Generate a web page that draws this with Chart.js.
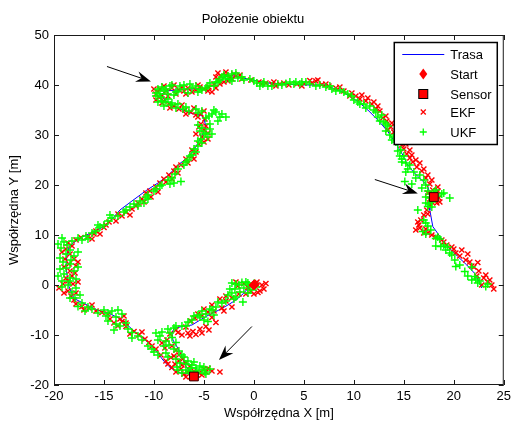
<!DOCTYPE html>
<html>
<head>
<meta charset="utf-8">
<script src="https://cdn.jsdelivr.net/npm/chart.js@4"></script>
<style>
  html, body { margin: 0; padding: 0; background: #fff; }
  #wrap { width: 515px; height: 421px; }
</style>
</head>
<body>
<div id="wrap"><canvas id="chart"></canvas></div>
<script>
const xTicks = [-20, -15, -10, -5, 0, 5, 10, 15, 20, 25];
const yTicks = [-20, -10, 0, 10, 20, 30, 40, 50];

// true route (blue)
const trasa = [
  [0,0],[-0.5,-0.5],[-1.2,-2],[-1.8,-3],[-2.6,-4],[-3.5,-5],[-4.8,-6.3],[-6.2,-8],[-7.2,-8.3],[-8,-8.7],
  [-8.2,-9.6],[-8.1,-11],[-7.5,-13],[-7.2,-14.3],[-6.8,-16.3],[-6.3,-17.7],[-7,-17.8],[-7.8,-17.3],[-8.5,-16.3],
  [-9.1,-15],[-10,-12.6],[-10.5,-11.6],[-11.7,-9.7],[-13.4,-6.7],[-14.6,-5.6],[-15.7,-5],[-17.4,-3.3],[-18,-2.7],
  [-18.5,-0.3],[-18.7,2],[-18.8,4],[-18.7,6],[-18.5,7.5],[-18.2,8.2],[-17.4,9.4],[-16.4,10.3],[-15,11.7],
  [-14.2,13.2],[-13.4,15],[-12.2,16.8],[-10.7,19],[-9.6,20.4],[-8.7,21.7],[-7.4,24.3],[-6.5,25.7],[-5.8,27.7],
  [-5.2,29.8],[-4.8,31.7],[-5,33.3],[-5.3,34],[-6.2,34.3],[-7.5,35.3],[-8.5,36.3],[-9,37.2],[-9.2,38.2],
  [-8.8,38.8],[-7.8,39],[-6.4,39.2],[-5,39.3],[-4.2,39.8],[-3.6,40.6],[-3,41.4],[-2.5,42],[-1.8,41.7],
  [-0.6,41.2],[0.4,40.8],[1.4,40.4],[2.6,40.2],[4,40.1],[5.4,40],[7.1,40],[8,39.3],[8.8,38.7],[10.4,36.7],
  [11.4,35],[12.4,33],[13.4,30.7],[14.4,27.7],[14.9,26],[15.3,24.3],[15.8,23],[16.4,21.7],[17,20.6],
  [17.4,19.7],[17.7,17.7],[17.6,16.4],[17.6,15],[17.9,11.7],[18.4,10.3],[19.1,8.3],[20.4,5.7],[21.3,4],
  [22.1,2.3],[22.5,0.8],[22.8,-0.6]
];
const startPt = [[0, 0]];
const sensors = [[-6, -18.3], [18, 17.6]];

const ekf = [
  [0.8,0],[1,-0.8],[0.4,-1.5],[-0.3,-1.2],[-1.8,0.6],[-1,0.3],[0.3,0.6],[1.2,0.3],[-0.6,-0.5],[0,-1.8],
  [-1.5,-1.8],[-2.2,-2.6],[-2.8,-3.2],[-3.2,-4.6],[-4,-5.2],[-4.6,-5.4],[-5.2,-6.2],[-5.9,-6.6],[-6.3,-7.2],
  [-4.2,-6.5],[-3.8,-7.5],[-4.8,-8.3],[-5.4,-8.8],[-6.1,-9.3],[-6.6,-9.6],[-7.2,-10],[-5.8,-9.9],[-4.5,-9],[-7.6,-9.5],
  [-8.4,-9.8],[-8.7,-11],[-8.2,-12.2],[-7.8,-13],[-7.5,-14],[-7.1,-14.8],[-6.8,-15.6],[-6.4,-16.2],[-7.3,-16.8],
  [-6,-17.2],[-5.5,-17.6],[-5,-16.8],[-4.6,-16.7],[-4.2,-17.2],[-3.4,-17.4],[-5.7,-18],[-6.3,-18.3],[-7,-17.8],
  [-7.8,-17.4],[-8.2,-16.5],[-7.5,-15.2],[-8.3,-14.5],
  [-8.8,-15.2],[-9.3,-14],[-9.8,-12.8],[-10.5,-11.5],[-10.9,-10.8],[-11.5,-10],[-12,-9.3],[-12.8,-8.3],
  [-13.2,-7.3],[-13.6,-8.2],[-13.4,-6.8],[-14,-7.6],[-14.6,-5.8],[-15.2,-5.5],[-15.8,-5.2],[-16.5,-4.6],
  [-17.2,-4.3],[-17.8,-3.8],[-18.3,-2.2],[-17.8,-1.6],[-18.6,-1.2],
  [-19.5,-0.6],[-19.1,0.2],[-18.6,0.8],[-18.2,1.8],[-18.4,2.8],[-17.8,3.8],[-18.5,4.2],[-18.9,5.2],
  [-18.4,6.2],[-18.8,7.2],[-18.2,7.8],[-17.9,2.4],[-18.1,0.2],
  [-17.3,9.5],[-16.6,9.7],[-16,10.2],[-15.8,10.8],[-15,11.5],[-14.5,12.6],[-13.8,12.8],[-13.2,13.8],
  [-12.8,14.6],[-12.2,15.2],[-11.6,16.4],[-11.2,17.2],[-10.8,18.4],[-10.3,17.6],[-9.8,19.6],[-9.4,20.4],
  [-9,21.2],[-8.5,22],[-8,22.8],[-7.6,22.4],[-7.3,24],[-6.8,25.2],[-6.2,25.8],[-5.8,26.6],[-5.5,28.2],
  [-5.2,29.6],[-5,31],[-5.5,31.6],[-4.6,30.4],[-5.3,32.2],[-6,25.2],
  [-5.3,34.2],[-5.8,34],[-6.3,34.6],[-6.9,35],[-7.5,35.2],[-8,35.8],[-8.5,36.2],[-9,36.8],[-9.2,37.8],
  [-9.6,38.6],[-9.4,39.2],[-8.8,38.8],[-8.2,39.4],[-7.5,39],[-6.6,39.4],[-5.8,39],[-5,39.2],[-4.5,39.6],
  [-4,40.2],[-3.6,41],[-3.3,41.8],[-2.8,42],[-2.4,41.6],[-3,40.6],
  [-9.8,38.2],[-9.5,37.6],[-8.6,37.8],[-7.8,38.2],[-7,38.8],[-6.2,38.6],[-5.4,39.6],[-4.6,38.8],[-3.8,39.4],
  [-2.6,40.8],[-3.8,41.6],[-2,42.2],[-9.2,36.4],[-6.8,34.2],[-5.6,33.6],[-4.9,33.2],
  [-1.8,41.8],[-1.2,41.2],[-0.3,41],[0.5,40.6],[1.2,40.4],[2,40.6],[2.6,40.2],[3.5,40],[4.3,40.2],[5,40.4],
  [5.6,40.9],[6.2,40.8],[6.8,40.1],[7.5,39.8],[8.2,39.4],[9,38.8],[9.8,38.4],[10.2,37.8],
  [10.6,37.2],[11.2,36.8],[11.8,36.2],[12.4,35.8],[12.6,34.8],[12.9,33.4],[13.3,32.8],[13.7,31.6],[14,30.6],
  [14.4,29.2],[14.8,28],[15,27.2],[15.3,26.2],[15.6,25.4],[15.9,24.6],[16.3,23.6],[16.8,22.8],[17.2,21.4],
  [17.6,20.2],[17.9,19],[18.2,18.2],[17.6,17.2],[18.3,16.4],[18.5,17.4],
  [17.6,16],[17.3,15],[17,14],[16.7,13],[16.5,12],[16.6,11.4],[17.2,11.2],[17,10.4],[17.8,10],[18.2,9.6],
  [18.8,9],[19.3,8],[19.8,7.6],[20.2,6.4],[20.6,5.8],[21.2,5],[21.6,4.6],[22,3.6],[22.5,2.8],[23,1.4],
  [23.4,0.6],[23.8,0],[24,-0.8],[22.3,1.8],[22.4,4.5],
  [-0.8,-1.8],[0.6,-1.2],[-1.6,-0.2],[0.2,0.2],[-2.8,-2.2],[-3.4,-2.8],[-4.2,-4],[-5,-4.8],[-5.6,-5.8],
  [-3,-5.2],[-2.2,-4.4],[-6.8,-8.4],[-7.8,-9],[-6.4,-10.2],[-5.2,-9.6],[-8.9,-12.6],[-9.2,-11.6],[-8,-14.2],
  [-7.2,-16],[-6.6,-17.4],[-5.2,-18],[-4.8,-17.4],[-6.8,-18.4],[-8.6,-15.8],[-7.9,-15.8],
  [-10.2,-12.2],[-11.2,-9.4],[-12.4,-9.8],[-13,-6.2],[-14.4,-6.8],[-12.8,-7.6],[-16.2,-4],[-17,-5],[-18,-3],
  [-19,-1.6],[-17.6,0.6],[-18.8,1.4],[-19,3.6],[-17.6,4.6],[-18,5.2],[-19.2,6.6],[-18.6,8.4],
  [-17.8,9],[-16.2,9.2],[-15.4,10.2],[-14.8,12],[-13.6,14.2],[-12.4,14],[-11.8,15.8],[-11,16.6],[-10.4,18.8],
  [-9.6,18.6],[-8.8,20.6],[-8.2,21.2],[-7.8,23.6],[-6.6,24.4],[-6.2,27],[-5,28.6],[-4.6,29.2],[-5.8,30.2],
  [-4.8,31.8],[-5,34.8],[-6,35.4],[-7.2,36],[-8.4,35.4],[-9.8,37],[-10,39.2],[-9,39.8],[-8,40],[-7.2,39.6],
  [-6.8,38.2],[-5.6,40],[-4.2,38.6],[-3.4,40.2],[-2.2,41.2],[-1.4,42],[-3.6,42.4],[-2.8,42.6],
  [0.8,40.2],[1.8,40.2],[2.2,39.8],[3,40.4],[5.8,40.4],[6.4,41],[4.8,39.8],[7.2,40.2],[8.6,39.6],[9.6,37.8],
  [10.8,38],[11.4,37.4],[12,36.6],[12.2,35.2],[13.2,33.8],[13.8,32.4],[13.4,31],[14.6,30.8],[14.2,29.8],
  [15.2,28.2],[15.6,27],[15.8,26],[16.2,25],[16.6,24.4],[17,23.2],[17.4,22],[17.8,21],[18.4,19.6],
  [17.4,18.4],[18.4,18.8],[18.6,16.6],[17.8,16.6],[17.4,14.2],[16.4,12.6],[16.2,11],[17.4,10.4],[19,8.6],
  [20.8,7],[21.4,6.2],[20,7.2],[21.8,3.8],[23.2,2],[23.6,1],[22.8,0]
];

const ukf = [
  [-0.5,0],[-1,-0.6],[-1.5,0],[-1.9,-0.8],[-1.2,0.5],[0.2,-0.4],[-0.3,-1],[-1.4,-1.4],[-2.2,-1.6],
  [-1.1,-3.4],[-0.8,0.6],[0,0.3],
  [-2.6,-2],[-3.2,-3.6],[-3.8,-4.4],[-4.4,-4.8],[-5.2,-5.2],[-6,-6.2],[-4,-6],[-6.6,-7.4],[-7.2,-8.2],
  [-8,-8.6],[-8.6,-8.8],[-9.2,-9.4],[-4.6,-7.3],[-5.4,-6.4],
  [-9.6,-11],[-9,-12.2],[-8.5,-12],[-8.2,-10.5],[-7.8,-11.5],[-7.5,-13.2],[-8.8,-13.6],[-7,-14.4],
  [-6.6,-15.2],[-7.4,-15.6],[-6.2,-16],[-5.8,-16.6],[-5.2,-17],[-6.5,-17.2],[-5.6,-17.6],[-4.8,-17.8],
  [-6.8,-17],[-7.7,-16.4],[-5.4,-16.2],[-4.9,-17.4],[-6.3,-16.6],
  [-9.6,-14],[-10.2,-12.8],[-10.6,-12.2],[-11.2,-11],[-12.2,-9.5],[-12.6,-8.8],[-13.4,-8.2],[-14,-9],
  [-14.6,-7.2],[-13.8,-6.4],[-13.2,-5.8],[-14.2,-5.2],[-15,-5],[-16.2,-4.8],[-16.9,-5.2],[-17.6,-4.3],
  [-17.9,-2.6],[-17.4,-2],[-18.2,-1.4],
  [-18.6,0],[-19.2,0.8],[-18.4,1.4],[-19,2.2],[-18,2.8],[-18.8,3.4],[-19.1,4.6],[-18.3,5],[-18,5.8],
  [-18.8,6.2],[-19.3,7.4],[-18.7,8],[-18.2,8.8],[-19,8.6],[-19.4,3.2],[-17.8,1.2],
  [-17.6,9.4],[-16.8,9.8],[-15.8,10.8],[-15.4,11.6],[-15,12],[-14.2,13.4],[-14.4,14],[-13.6,13.8],
  [-12.8,15],[-12.4,15.6],[-12,16.2],[-11.4,16.8],[-10.8,17.6],[-10.6,18],[-10,18.8],[-9.8,19.2],
  [-9.2,20],[-8.4,20.2],[-8.2,21.4],[-7.9,22.2],[-7.3,20.7],[-7,24],[-6.6,25],[-6,27.2],[-5.6,27.8],
  [-5.3,29.2],[-5,30.2],[-5.4,30.8],[-4.8,30.4],
  [-4.5,33.8],[-4.2,34.2],[-4.8,33.4],[-5.6,34.4],[-6.5,34.8],[-7.1,35.2],[-7.8,35.4],[-8.3,36],
  [-8.8,36.6],[-9.3,37.6],[-9,38.8],[-9.2,39.6],[-8.6,38.2],[-8.4,39.8],[-7.8,38.6],[-7,39.2],
  [-6.2,39.4],[-5.6,38.6],[-4.8,39.4],[-4,39.8],[-3.6,40.6],[-3.2,41.6],[-2.6,41.8],[-2.2,42.2],
  [-1.6,41.4],[-9.8,38.4],[-8.6,37.2],[-3.4,33.6],[-3.8,34.6],
  [-9.4,38.2],[-8.8,39.2],[-8,38],[-7.4,39.8],[-6.6,38.4],[-5.8,39.8],[-5.2,39],[-4.4,40.4],[-3,42],
  [-2.8,41.2],[-9.6,36.6],[-8.2,36.4],[-9,35.8],[-3.2,34.2],[-5.6,32],[-4.4,31.2],[-5.2,28.4],[-6.2,26],
  [-1,41],[-0.4,41.2],[0.3,40.4],[0.9,40.2],[1.4,39.8],[2.4,40.2],[3.2,40.3],[4.2,40.6],[4.6,40.2],
  [5.2,40.6],[6.6,40],[7.2,39.6],[7.8,39.2],[8.6,39],[9.4,38.2],[9.8,37.8],[10.4,36.6],
  [11,36.2],[11.6,35.8],[12.2,34.6],[12.8,34],[13,32.6],[13.4,31.8],[13.6,30],[14,29.6],[14.4,28.2],
  [14.7,27],[15,25.8],[15.2,24.4],[15.6,24],[16,22.6],[16.6,22],[15.8,20.2],[17.2,20],[17.4,18.8],
  [18.2,19],[18.8,18.2],[19.6,17.4],[17.6,17.4],[17.5,16.2],[17.8,15.6],[14.8,24.6],[15.1,20.7],
  [16.4,15],[17.4,15.7],[17.2,12.4],[16.9,10.7],[17.7,11],[18.2,9.3],[18.4,9.6],[18.7,7.7],[18.2,7.8],
  [19.2,7],[19.6,6.4],[20.1,5],[20.2,3.7],[21.1,2.7],[21.4,1.8],[22.1,1.7],[22.2,1.2],[22.6,0.8],
  [23.2,-0.3],[18.4,17.8],
  [-0.6,0.4],[-1.8,0.2],[-2.4,-0.8],[-2.2,0.4],[-0.6,-1.6],[-1.8,-2.4],[-2,-2.8],[-2.8,-3.2],[-3.6,-3.4],
  [-4.2,-5],[-4.8,-5.8],[-5.6,-6],[-6.2,-7],[-5,-7],[-6.8,-8.2],[-7.8,-8.2],[-8.4,-9.6],[-9.4,-10.2],
  [-9.8,-9.6],[-8.8,-11.2],[-8,-12.8],[-8.6,-14.4],[-7.2,-14],[-6.8,-15.8],[-7.6,-17],[-6.4,-17.6],
  [-5,-16.4],[-4.4,-16.8],[-7.2,-17.6],[-5.8,-17.2],[-6,-15.4],[-7.8,-14.8],
  [-10,-13.4],[-11.6,-10.2],[-12.2,-10.6],[-12.8,-7.6],[-13.8,-7.8],[-14.8,-6.2],[-13.6,-5],[-14.6,-5.6],
  [-15.6,-5.6],[-16.6,-4.4],[-17.2,-3.6],[-18.4,-2.6],[-17.8,-0.6],
  [-19.2,-0.4],[-18.4,0.8],[-19.6,1.8],[-17.6,3.6],[-18.4,4.2],[-19.4,5.4],[-17.6,6.6],[-18.4,7],
  [-19.6,8.2],[-19.2,9.4],[-17.2,9],
  [-16.2,10.4],[-16.6,9.2],[-15.6,12],[-14.6,12.8],[-13,14.6],[-11.6,15.8],[-11,16.4],[-10.6,17.2],
  [-9.4,19.8],[-8.6,21],[-8,20.4],[-7.6,23.2],[-6.8,24.6],[-6.4,25.8],[-5.8,26.6],[-5.6,28.8],[-4.6,29.6],
  [-5.2,31.4],[-4.2,30.2],[-4.4,32.2],
  [-2.8,33.6],[-3.6,32.8],[-4,35],[-5.2,34.8],[-5.8,35.2],[-6.8,35.6],[-7.6,36.2],[-9.2,36.8],[-9.8,37.8],
  [-9.6,39.2],[-8.2,40],[-7.6,38.8],[-7,40],[-6.4,40.2],[-5.4,39.2],[-4.6,39.8],[-3.8,40.6],[-3.4,41],
  [-2.4,41.2],[-1.8,42.4],[-1.2,41.6],[-2.2,40.8],
  [0,40.8],[0.6,39.8],[1,40.6],[1.8,39.8],[2.8,40],[3.6,40.6],[4,40.2],[4.8,40.6],[5.6,40.2],[6.2,39.8],
  [7.6,39.8],[8.2,38.8],[9,38.6],
  [10,37],[10.6,36.2],[11.2,35.4],[12,35],[12.4,33.6],[12.6,32.8],[13.2,32.2],[13.2,30.8],[13.8,29],
  [14.2,28.6],[14.4,26.8],[14.6,25.8],[14.8,25.2],[15.4,23.2],[15.2,22.6],[16.2,21.4],[17,21],[16.8,19.4],
  [17.2,17.6],[18,18.6],[19,18.4],[17.8,16.6],[17.2,16.4],[17,13],[17.4,11.8],[17.2,10.2],[18.6,9.2],
  [19,8],[19.4,7.6],[19.8,6],[20.6,4],[21.8,3.6],[22.4,0.4],[23.4,0.2],[21.8,1]
];

// annotation arrows: [tail, head] in data units
const arrows = [
  [[-14.7, 43.7], [-10.3, 40.7]],
  [[12.1, 21.1], [16.4, 18.3]],
  [[-0.2, -8.3], [-3.5, -15]]
];

const FONT = 'Arial, "Liberation Sans", Helvetica, sans-serif';
const toXY = arr => arr.map(p => ({ x: p[0], y: p[1] }));

const axesBox = {
  id: 'axesBox',
  afterDraw(chart) {
    const { ctx, chartArea: a, scales } = chart;
    ctx.save();
    ctx.strokeStyle = '#1a1a1a';
    ctx.lineWidth = 1;
    ctx.strokeRect(a.left + 0.5, a.top + 0.5, a.right - a.left - 1, a.bottom - a.top - 1);
    ctx.beginPath();
    xTicks.forEach(v => {
      const px = Math.round(scales.x.getPixelForValue(v)) + 0.5;
      ctx.moveTo(px, a.bottom); ctx.lineTo(px, a.bottom - 5);
      ctx.moveTo(px, a.top); ctx.lineTo(px, a.top + 5);
    });
    yTicks.forEach(v => {
      const py = Math.round(scales.y.getPixelForValue(v)) + 0.5;
      ctx.moveTo(a.left, py); ctx.lineTo(a.left + 5, py);
      ctx.moveTo(a.right, py); ctx.lineTo(a.right - 5, py);
    });
    ctx.stroke();
    ctx.restore();
  }
};

const arrowLayer = {
  id: 'arrowLayer',
  afterDatasetsDraw(chart) {
    const { ctx, scales } = chart;
    ctx.save();
    ctx.strokeStyle = '#000';
    ctx.fillStyle = '#000';
    ctx.lineWidth = 1;
    arrows.forEach(([t, h]) => {
      const x1 = scales.x.getPixelForValue(t[0]), y1 = scales.y.getPixelForValue(t[1]);
      const x2 = scales.x.getPixelForValue(h[0]), y2 = scales.y.getPixelForValue(h[1]);
      const ang = Math.atan2(y2 - y1, x2 - x1);
      const L = 15, W = 5.5, N = 10;
      ctx.beginPath();
      ctx.moveTo(x1, y1);
      ctx.lineTo(x2 - N * Math.cos(ang), y2 - N * Math.sin(ang));
      ctx.stroke();
      ctx.beginPath();
      ctx.moveTo(x2, y2);
      ctx.lineTo(x2 - L * Math.cos(ang) + W * Math.sin(ang), y2 - L * Math.sin(ang) - W * Math.cos(ang));
      ctx.lineTo(x2 - N * Math.cos(ang), y2 - N * Math.sin(ang));
      ctx.lineTo(x2 - L * Math.cos(ang) - W * Math.sin(ang), y2 - L * Math.sin(ang) + W * Math.cos(ang));
      ctx.closePath();
      ctx.fill();
    });
    ctx.restore();
  }
};

const legendBox = {
  id: 'legendBox',
  afterDatasetsDraw(chart) {
    const { ctx, chartArea: a } = chart;
    const x0 = a.right - 109.5, y0 = a.top + 7.5, w = 103, h = 102;
    ctx.save();
    ctx.fillStyle = '#fff';
    ctx.fillRect(x0, y0, w, h);
    ctx.strokeStyle = '#000';
    ctx.lineWidth = 1.5;
    ctx.strokeRect(x0, y0, w, h);
    const mx = x0 + 29;
    const rows = [12, 31.5, 51.5, 69.5, 89.5].map(d => y0 + d);
    // Trasa
    ctx.strokeStyle = '#0000ff'; ctx.lineWidth = 1;
    ctx.beginPath(); ctx.moveTo(x0 + 8, rows[0]); ctx.lineTo(x0 + 50, rows[0]); ctx.stroke();
    // Start diamond
    ctx.fillStyle = '#ff0000';
    ctx.beginPath();
    ctx.moveTo(mx, rows[1] - 5.5); ctx.lineTo(mx + 4, rows[1]);
    ctx.lineTo(mx, rows[1] + 5.5); ctx.lineTo(mx - 4, rows[1]); ctx.closePath(); ctx.fill();
    // Sensor square
    ctx.fillRect(mx - 4.5, rows[2] - 4.5, 9, 9);
    ctx.strokeStyle = '#000'; ctx.lineWidth = 1;
    ctx.strokeRect(mx - 4.5, rows[2] - 4.5, 9, 9);
    // EKF x
    ctx.strokeStyle = '#ff0000'; ctx.lineWidth = 1.3;
    ctx.beginPath();
    ctx.moveTo(mx - 2.5, rows[3] - 2.5); ctx.lineTo(mx + 2.5, rows[3] + 2.5);
    ctx.moveTo(mx + 2.5, rows[3] - 2.5); ctx.lineTo(mx - 2.5, rows[3] + 2.5);
    ctx.stroke();
    // UKF +
    ctx.strokeStyle = '#00ff00';
    ctx.beginPath();
    ctx.moveTo(mx - 3.5, rows[4]); ctx.lineTo(mx + 3.5, rows[4]);
    ctx.moveTo(mx, rows[4] - 3.5); ctx.lineTo(mx, rows[4] + 3.5);
    ctx.stroke();
    ctx.fillStyle = '#000';
    ctx.font = '13px ' + FONT;
    ctx.textAlign = 'left';
    ctx.textBaseline = 'middle';
    ['Trasa', 'Start', 'Sensor', 'EKF', 'UKF'].forEach((t, i) => ctx.fillText(t, x0 + 56, rows[i] + 1));
    ctx.restore();
  }
};

new Chart(document.getElementById('chart'), {
  type: 'scatter',
  data: {
    datasets: [
      { label: 'Start', data: toXY(startPt), pointStyle: 'rectRot', pointRadius: 5,
        backgroundColor: '#ff0000', borderColor: '#ff0000', borderWidth: 1, order: 1 },
      { label: 'Sensor', data: toXY(sensors), pointStyle: 'rect', pointRadius: 6.2,
        backgroundColor: '#ff0000', borderColor: '#300000', borderWidth: 1, order: 2 },
      { label: 'UKF', data: toXY(ukf), pointStyle: 'cross', pointRadius: 4,
        borderColor: '#00ff00', backgroundColor: '#00ff00', borderWidth: 1.4, order: 3 },
      { label: 'EKF', data: toXY(ekf), pointStyle: 'crossRot', pointRadius: 3.7,
        borderColor: '#ff0000', backgroundColor: '#ff0000', borderWidth: 1.4, order: 4 },
      { label: 'Trasa', data: toXY(trasa), showLine: true, pointRadius: 0, borderColor: '#0000ff',
        borderWidth: 1, tension: 0, order: 5 }
    ]
  },
  options: {
    responsive: true,
    maintainAspectRatio: false,
    animation: false,
    layout: { padding: { left: 0, right: 9, top: 0, bottom: 0 } },
    plugins: {
      legend: { display: false },
      tooltip: { enabled: false },
      title: {
        display: true, text: 'Położenie obiektu', color: '#000',
        font: { family: FONT, size: 13, weight: 'normal' },
        padding: { top: 12, bottom: 7.4 }
      }
    },
    scales: {
      x: {
        type: 'linear', min: -20, max: 25,
        afterBuildTicks: s => { s.ticks = xTicks.map(v => ({ value: v })); },
        afterFit: s => { s.height = 36; },
        grid: { display: false, drawTicks: false },
        border: { display: false },
        ticks: { color: '#000', font: { family: FONT, size: 13 }, padding: 4, maxRotation: 0, autoSkip: false },
        title: { display: true, text: 'Współrzędna X [m]', color: '#000',
          font: { family: FONT, size: 13 }, padding: { top: 0, bottom: 0 } }
      },
      y: {
        type: 'linear', min: -20, max: 50,
        afterBuildTicks: s => { s.ticks = yTicks.map(v => ({ value: v })); },
        afterFit: s => { s.width = 54; },
        grid: { display: false, drawTicks: false },
        border: { display: false },
        ticks: { color: '#000', font: { family: FONT, size: 13 }, padding: 5, autoSkip: false },
        title: { display: true, text: 'Współrzędna Y [m]', color: '#000',
          font: { family: FONT, size: 13 }, padding: { top: 7, bottom: 0 } }
      }
    }
  },
  plugins: [axesBox, arrowLayer, legendBox]
});
</script>
</body>
</html>
